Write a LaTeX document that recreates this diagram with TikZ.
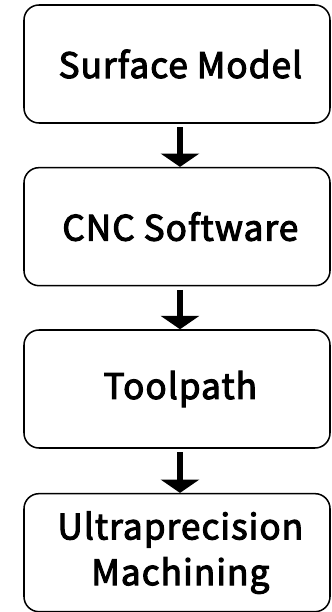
\documentclass[tikz,border=0pt]{standalone}
\usepackage{fontspec}
\setmainfont{Noto Sans CJK SC}
\newfontfamily\stagefont{Noto Sans CJK SC}[FakeBold=3, LetterSpace=3]
\usepackage{xcolor}
\usetikzlibrary{arrows.meta, positioning}

\begin{document}
\begin{tikzpicture}[
  stage/.style={rectangle, draw=black, line width=1.3pt, rounded corners=0.45cm, minimum width=9.18cm, minimum height=3.54cm, align=center, font=\fontsize{30}{39}\stagefont},
  arrow/.style={-{Triangle[width=1.14cm, length=0.4cm]}, line width=0.17cm, draw=black}
]
  \useasboundingbox (0, 0) rectangle (9.93, -18.36);

  % Boxes
  \node[stage] (model) at (5.31, -1.92) {\hspace{0.2cm}Surface Model};
  \node[stage] (software) at (5.31, -6.80) {\hspace{0.2cm}CNC Software};
  \node[stage] (toolpath) at (5.31, -11.67) {\hspace{0.2cm}Toolpath};
  \node[stage] (machining) at (5.31, -16.58) {\hspace{0.2cm}Ultraprecision\\\hspace{0.2cm}Machining};

  % Arrows
  \draw[arrow] ([xshift=0.09cm, yshift=-0.1cm]model.south) -- ([xshift=0.09cm]software.north);
  \draw[arrow] ([xshift=0.09cm, yshift=-0.1cm]software.south) -- ([xshift=0.09cm]toolpath.north);
  \draw[arrow] ([xshift=0.09cm, yshift=-0.1cm]toolpath.south) -- ([xshift=0.09cm]machining.north);
\end{tikzpicture}
\end{document}
